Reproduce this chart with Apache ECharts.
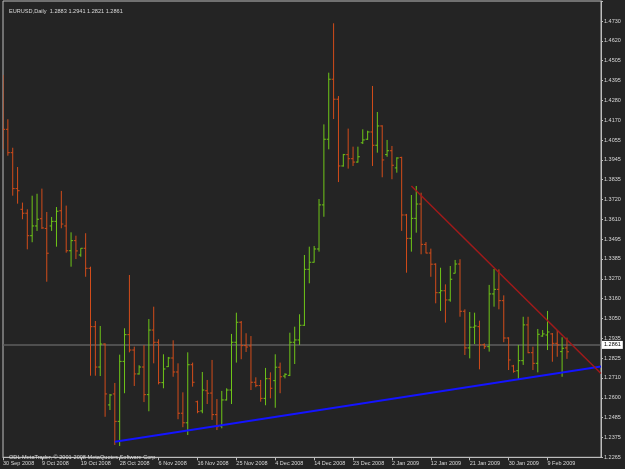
<!DOCTYPE html>
<html>
<head>
<meta charset="utf-8">
<script src="https://cdn.jsdelivr.net/npm/echarts@6/dist/echarts.min.js"></script>
<style>
  html, body { margin: 0; padding: 0; background: #242424; }
  #chart { width: 625px; height: 469px; }
</style>
</head>
<body>
<div id="chart"></div>
<script>
// EURUSD daily bars, one entry per trading day (Sunday bars included)
const dates = ['30 Sep 2008','1 Oct 2008','2 Oct 2008','3 Oct 2008','5 Oct 2008','6 Oct 2008','7 Oct 2008','8 Oct 2008','9 Oct 2008','10 Oct 2008',
  '12 Oct 2008','13 Oct 2008','14 Oct 2008','15 Oct 2008','16 Oct 2008','17 Oct 2008','19 Oct 2008','20 Oct 2008','21 Oct 2008','22 Oct 2008',
  '23 Oct 2008','24 Oct 2008','26 Oct 2008','27 Oct 2008','28 Oct 2008','29 Oct 2008','30 Oct 2008','31 Oct 2008','2 Nov 2008','3 Nov 2008',
  '4 Nov 2008','5 Nov 2008','6 Nov 2008','7 Nov 2008','9 Nov 2008','10 Nov 2008','11 Nov 2008','12 Nov 2008','13 Nov 2008','14 Nov 2008',
  '16 Nov 2008','17 Nov 2008','18 Nov 2008','19 Nov 2008','20 Nov 2008','21 Nov 2008','23 Nov 2008','24 Nov 2008','25 Nov 2008','26 Nov 2008',
  '27 Nov 2008','28 Nov 2008','30 Nov 2008','1 Dec 2008','2 Dec 2008','3 Dec 2008','4 Dec 2008','5 Dec 2008','7 Dec 2008','8 Dec 2008',
  '9 Dec 2008','10 Dec 2008','11 Dec 2008','12 Dec 2008','14 Dec 2008','15 Dec 2008','16 Dec 2008','17 Dec 2008','18 Dec 2008','19 Dec 2008',
  '21 Dec 2008','22 Dec 2008','23 Dec 2008','24 Dec 2008','26 Dec 2008','28 Dec 2008','29 Dec 2008','30 Dec 2008','31 Dec 2008','1 Jan 2009',
  '2 Jan 2009','4 Jan 2009','5 Jan 2009','6 Jan 2009','7 Jan 2009','8 Jan 2009','9 Jan 2009','11 Jan 2009','12 Jan 2009','13 Jan 2009',
  '14 Jan 2009','15 Jan 2009','16 Jan 2009','18 Jan 2009','19 Jan 2009','20 Jan 2009','21 Jan 2009','22 Jan 2009','23 Jan 2009','25 Jan 2009',
  '26 Jan 2009','27 Jan 2009','28 Jan 2009','29 Jan 2009','30 Jan 2009','1 Feb 2009','2 Feb 2009','3 Feb 2009','4 Feb 2009','5 Feb 2009',
  '6 Feb 2009','8 Feb 2009','9 Feb 2009','10 Feb 2009','11 Feb 2009','12 Feb 2009','13 Feb 2009'];

const opens = [1.4312,1.4118,1.3986,1.3783,1.3666,1.3644,1.3517,1.3572,1.3613,1.3558,
  1.3572,1.3598,1.3658,1.3572,1.3432,1.3489,1.3408,1.3446,1.3333,1.3003,
  1.2775,1.2905,1.2561,1.2623,1.2468,1.2807,1.2958,1.2871,1.2736,1.2775,
  1.2619,1.2984,1.2915,1.2687,1.2777,1.2826,1.2747,1.2514,1.2460,1.2788,
  1.2579,1.2527,1.2641,1.2628,1.2506,1.2442,1.2589,1.2645,1.2915,1.3028,
  1.2896,1.2894,1.2689,1.2670,1.2598,1.2709,1.2698,1.2774,1.2724,1.2728,
  1.2915,1.2928,1.3011,1.3327,1.3367,1.3442,1.3691,1.4062,1.4401,1.4288,
  1.3911,1.3975,1.3952,1.3933,1.4042,1.4062,1.4103,1.4028,1.4137,1.3975,
  1.3997,1.3900,1.3959,1.3634,1.3502,1.3615,1.3696,1.3468,1.3419,1.3356,
  1.3195,1.3206,1.3154,1.3305,1.3357,1.3090,1.2883,1.3000,1.3003,1.2901,
  1.2890,1.3188,1.3214,1.3150,1.2939,1.2781,1.2754,1.2811,1.3013,1.2856,
  1.2796,1.2950,1.2956,1.2962,1.2909,1.2862,1.2883];
const highs = [1.4425,1.4175,1.4014,1.3905,1.3704,1.3666,1.3743,1.3754,1.3783,1.3651,
  1.3623,1.3679,1.3770,1.3687,1.3536,1.3517,1.3446,1.3531,1.3342,1.3035,
  1.3007,1.2909,1.2623,1.2685,1.2845,1.2994,1.3295,1.2890,1.2785,1.2898,
  1.3046,1.3116,1.2932,1.2847,1.2832,1.2926,1.2796,1.2632,1.2858,1.2800,
  1.2585,1.2747,1.2702,1.2815,1.2594,1.2640,1.2655,1.2962,1.3082,1.3035,
  1.2966,1.2950,1.2717,1.2702,1.2770,1.2745,1.2847,1.2800,1.2740,1.2969,
  1.3003,1.3073,1.3408,1.3455,1.3459,1.3724,1.4146,1.4438,1.4717,1.4306,
  1.3979,1.4122,1.4020,1.4020,1.4118,1.4110,1.4363,1.4216,1.4141,1.4058,
  1.4024,1.3960,1.3963,1.3640,1.3747,1.3798,1.3760,1.3481,1.3444,1.3361,
  1.3336,1.3242,1.3346,1.3380,1.3384,1.3101,1.3086,1.3082,1.3037,1.2909,
  1.3239,1.3329,1.3327,1.3180,1.2943,1.2787,1.2900,1.3059,1.3059,1.2890,
  1.2990,1.2984,1.3092,1.2967,1.2984,1.2943,1.2941];
const lows = [1.4005,1.3969,1.3743,1.3698,1.3610,1.3440,1.3480,1.3544,1.3555,1.3257,
  1.3544,1.3455,1.3559,1.3421,1.3342,1.3385,1.3398,1.3285,1.2726,1.2726,
  1.2724,1.2494,1.2532,1.2335,1.2329,1.2627,1.2858,1.2668,1.2732,1.2577,
  1.2525,1.2796,1.2677,1.2655,1.2775,1.2720,1.2480,1.2435,1.2391,1.2664,
  1.2514,1.2514,1.2566,1.2476,1.2419,1.2429,1.2586,1.2566,1.2800,1.2819,
  1.2860,1.2645,1.2661,1.2579,1.2559,1.2598,1.2545,1.2627,1.2711,1.2724,
  1.2792,1.2900,1.3007,1.3248,1.3365,1.3427,1.3624,1.4005,1.4176,1.3820,
  1.3907,1.3896,1.3911,1.3930,1.4035,1.4058,1.3911,1.3986,1.3847,1.3963,
  1.3836,1.3873,1.3544,1.3308,1.3427,1.3534,1.3412,1.3417,1.3285,1.3135,
  1.3092,1.3026,1.3144,1.3304,1.3059,1.2843,1.2824,1.2905,1.2762,1.2877,
  1.2862,1.3116,1.3101,1.2915,1.2758,1.2743,1.2707,1.2787,1.2853,1.2758,
  1.2745,1.2946,1.2871,1.2805,1.2833,1.2720,1.2821];
const closes = [1.4118,1.3986,1.3783,1.3771,1.3644,1.3517,1.3572,1.3610,1.3561,1.3418,
  1.3598,1.3655,1.3583,1.3432,1.3489,1.3431,1.3446,1.3333,1.3003,1.2775,
  1.2905,1.2623,1.2617,1.2468,1.2807,1.2958,1.2871,1.2736,1.2775,1.2619,
  1.2984,1.2915,1.2687,1.2764,1.2826,1.2747,1.2514,1.2460,1.2788,1.2689,
  1.2523,1.2645,1.2627,1.2506,1.2438,1.2589,1.2645,1.2915,1.3028,1.2896,
  1.2888,1.2689,1.2670,1.2598,1.2709,1.2655,1.2774,1.2720,1.2734,1.2915,
  1.2928,1.3011,1.3327,1.3367,1.3442,1.3691,1.4062,1.4401,1.4288,1.3911,
  1.3975,1.3952,1.3933,1.3963,1.4058,1.4103,1.4028,1.4137,1.3945,1.3997,
  1.3915,1.3956,1.3634,1.3502,1.3615,1.3696,1.3468,1.3419,1.3356,1.3195,
  1.3206,1.3154,1.3271,1.3357,1.3090,1.2883,1.3000,1.3007,1.2900,1.2890,
  1.3188,1.3214,1.3150,1.2939,1.2815,1.2751,1.2811,1.3013,1.2856,1.2796,
  1.2960,1.2962,1.2973,1.2909,1.2900,1.2881,1.2861];

// price scale labels as MetaTrader prints them (bottom to top)
const yLabels = ['1.2265','1.2375','1.2485','1.2600','1.2710','1.2825','1.2935','1.3050','1.3160','1.3270',
  '1.3385','1.3495','1.3610','1.3720','1.3835','1.3945','1.4055','1.4170','1.4280','1.4395',
  '1.4505','1.4620','1.4730'];
const yMin = 1.2265;
const yStep = 0.0112045;
const yMax = 1.4843;

// hand drawn trendlines: [bar index, price]
const supportLine = [[23, 1.2353], [123, 1.2778]];
const resistLine = [[84, 1.3798], [123, 1.2738]];

const emptySlots = 7;   // room left after the last bar
const labelEvery = 8;
const upColor = '#6fc618';
const downColor = '#d24c1a';
const textColor = '#d8d8d8';
const font = 'Liberation Sans';

const last = dates.length - 1;
const categories = dates.concat(new Array(emptySlots).fill(''));
const bars = dates.map((d, i) => [i, opens[i], highs[i], lows[i], closes[i]]);
const titleText = 'EURUSD,Daily  ' +
  [opens[last], highs[last], lows[last], closes[last]].map(v => v.toFixed(4)).join(' ');

function renderBar(params, api) {
  const i = api.value(0);
  const o = api.coord([i, api.value(1)]);
  const h = api.coord([i, api.value(2)]);
  const l = api.coord([i, api.value(3)]);
  const c = api.coord([i, api.value(4)]);
  const x = o[0];
  const style = { stroke: api.value(4) >= api.value(1) ? upColor : downColor, lineWidth: 1 };
  return {
    type: 'group',
    children: [
      { type: 'line', shape: { x1: x, y1: h[1], x2: x, y2: l[1] }, style: style },
      { type: 'line', shape: { x1: x - 2, y1: o[1], x2: x, y2: o[1] }, style: style },
      { type: 'line', shape: { x1: x, y1: c[1], x2: x + 2, y2: c[1] }, style: style }
    ]
  };
}

const showLabel = (idx, val) => idx % labelEvery === 0 && val !== '';

const chart = echarts.init(document.getElementById('chart'), null, { renderer: 'canvas' });
chart.setOption({
  animation: false,
  backgroundColor: '#242424',
  title: [
    { text: titleText, left: 4, top: 3, textStyle: { color: textColor, fontSize: 5.6, fontWeight: 'normal', fontFamily: font } },
    { text: 'ODL MetaTrader, © 2001-2008 MetaQuotes Software Corp.', left: 4, top: 449,
      textStyle: { color: textColor, fontSize: 5.6, fontWeight: 'normal', fontFamily: font } }
  ],
  grid: { left: 1, right: 24, top: 1, bottom: 11.7, show: true, borderColor: '#bdbdbd', borderWidth: 1 },
  xAxis: {
    type: 'category',
    data: categories,
    boundaryGap: false,
    axisLine: { lineStyle: { color: '#bdbdbd' } },
    axisTick: { interval: showLabel, length: 3, lineStyle: { color: '#bdbdbd' } },
    axisLabel: { interval: showLabel, align: 'left', margin: 3, color: textColor, fontSize: 5.5, fontFamily: font },
    splitLine: { show: false }
  },
  yAxis: {
    type: 'value',
    position: 'right',
    min: yMin,
    max: yMax,
    interval: yStep,
    scale: true,
    axisLine: { show: true, lineStyle: { color: '#bdbdbd' } },
    axisTick: { show: true, length: 2, lineStyle: { color: '#bdbdbd' } },
    axisLabel: {
      margin: 3, color: textColor, fontSize: 5.5, fontFamily: font,
      formatter: v => yLabels[Math.round((v - yMin) / yStep)] || ''
    },
    splitLine: { show: false }
  },
  series: [
    {
      type: 'custom',
      name: 'EURUSD',
      renderItem: renderBar,
      data: bars,
      encode: { x: 0, y: [1, 2, 3, 4] },
      clip: true,
      z: 3
    },
    {
      type: 'line',
      name: 'support',
      data: supportLine,
      showSymbol: false,
      symbol: 'none',
      lineStyle: { color: '#1414ff', width: 2 },
      z: 4,
      markLine: {
        silent: true,
        symbol: ['none', 'none'],
        lineStyle: { color: '#5e5e5e', width: 1.5, type: 'solid' },
        label: {
          position: 'end', distance: 1, formatter: closes[last].toFixed(4),
          color: '#000', backgroundColor: '#fff', fontSize: 5.5, fontFamily: font, padding: [1, 2]
        },
        data: [{ yAxis: closes[last] }],
        z: 2
      }
    },
    {
      type: 'line',
      name: 'resistance',
      data: resistLine,
      showSymbol: false,
      symbol: 'none',
      lineStyle: { color: '#a01a1a', width: 1.5 },
      z: 4
    }
  ]
});
</script>
</body>
</html>
